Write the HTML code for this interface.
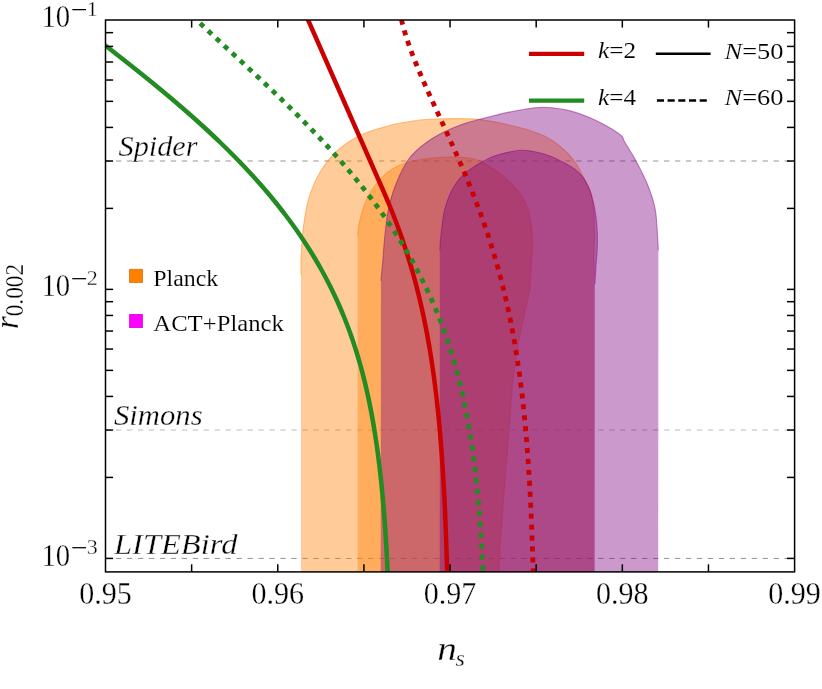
<!DOCTYPE html>
<html><head><meta charset="utf-8"><title>ns-r plot</title>
<style>html,body{margin:0;padding:0;background:#fff;}svg{display:block;}text{font-family:"Liberation Serif",serif;fill:#000;stroke:#fff;stroke-width:0.3px;paint-order:fill stroke;}</style>
</head><body>
<svg style="will-change:transform" width="822" height="689" viewBox="0 0 822 689">
<rect width="822" height="689" fill="#fff"/>
<defs><clipPath id="pc"><rect x="105.50" y="20.00" width="689.10" height="551.90"/></clipPath></defs>
<g clip-path="url(#pc)">
<line x1="105.04" y1="161.02" x2="795" y2="161.02" stroke="#b9b9b9" stroke-width="1.3" stroke-dasharray="5.3 5.66"/>
<line x1="105.04" y1="430.05" x2="795" y2="430.05" stroke="#bcbcbc" stroke-width="1.1" stroke-dasharray="5.3 5.66"/>
<line x1="105.04" y1="558.41" x2="795" y2="558.41" stroke="#858585" stroke-width="0.9" stroke-dasharray="5.3 5.66"/>
<path d="M301.00 573.90 L301.00 275.20 C301.03 271.75 300.73 263.02 301.20 254.50 C301.67 245.98 302.45 233.75 303.80 224.10 C305.15 214.45 306.55 205.33 309.30 196.60 C312.05 187.87 315.70 179.30 320.30 171.70 C324.90 164.10 330.45 156.97 336.90 151.00 C343.35 145.03 350.72 140.03 359.00 135.90 C367.28 131.77 377.42 128.73 386.60 126.20 C395.78 123.67 404.92 121.93 414.10 120.70 C423.28 119.47 432.50 119.12 441.70 118.80 C450.90 118.48 462.92 118.67 469.30 118.80 C475.68 118.93 474.55 118.83 480.00 119.60 C485.45 120.37 494.18 121.73 502.00 123.40 C509.82 125.07 519.07 127.10 526.90 129.60 C534.73 132.10 542.57 134.83 549.00 138.40 C555.43 141.97 560.90 146.67 565.50 151.00 C570.10 155.33 573.85 160.48 576.60 164.40 C579.35 168.32 579.72 170.07 582.00 174.50 C584.28 178.93 588.35 185.03 590.30 191.00 C592.25 196.97 593.00 203.40 593.70 210.30 C594.40 217.20 594.45 225.03 594.50 232.40 C594.55 239.77 594.03 247.13 594.00 254.50 C593.97 261.87 594.25 272.92 594.30 276.60 L594.30 573.90 Z" fill="rgb(255,128,0)" fill-opacity="0.4"/>
<path d="M301.00 275.20 C301.03 271.75 300.73 263.02 301.20 254.50 C301.67 245.98 302.45 233.75 303.80 224.10 C305.15 214.45 306.55 205.33 309.30 196.60 C312.05 187.87 315.70 179.30 320.30 171.70 C324.90 164.10 330.45 156.97 336.90 151.00 C343.35 145.03 350.72 140.03 359.00 135.90 C367.28 131.77 377.42 128.73 386.60 126.20 C395.78 123.67 404.92 121.93 414.10 120.70 C423.28 119.47 432.50 119.12 441.70 118.80 C450.90 118.48 462.92 118.67 469.30 118.80 C475.68 118.93 474.55 118.83 480.00 119.60 C485.45 120.37 494.18 121.73 502.00 123.40 C509.82 125.07 519.07 127.10 526.90 129.60 C534.73 132.10 542.57 134.83 549.00 138.40 C555.43 141.97 560.90 146.67 565.50 151.00 C570.10 155.33 573.85 160.48 576.60 164.40 C579.35 168.32 579.72 170.07 582.00 174.50 C584.28 178.93 588.35 185.03 590.30 191.00 C592.25 196.97 593.00 203.40 593.70 210.30 C594.40 217.20 594.45 225.03 594.50 232.40 C594.55 239.77 594.03 247.13 594.00 254.50 C593.97 261.87 594.25 272.92 594.30 276.60" fill="none" stroke="rgb(255,128,0)" stroke-opacity="0.45" stroke-width="1.1"/>
<path d="M357.60 573.90 L357.60 235.20 C357.83 233.35 357.85 229.17 359.00 224.10 C360.15 219.03 362.20 210.77 364.50 204.80 C366.80 198.83 369.12 193.58 372.80 188.30 C376.48 183.02 382.02 177.02 386.60 173.10 C391.18 169.18 395.72 166.87 400.30 164.80 C404.88 162.73 408.58 161.85 414.10 160.70 C419.62 159.55 426.50 158.50 433.40 157.90 C440.30 157.30 449.40 157.05 455.50 157.10 C461.60 157.15 465.75 157.50 470.00 158.20 C474.25 158.90 477.03 159.50 481.00 161.30 C484.97 163.10 489.37 165.88 493.80 169.00 C498.23 172.12 503.00 175.63 507.60 180.00 C512.20 184.37 517.95 190.15 521.40 195.20 C524.85 200.25 526.55 204.55 528.30 210.30 C530.05 216.05 531.22 223.25 531.90 229.70 C532.58 236.15 532.55 242.62 532.40 249.00 C532.25 255.38 531.45 261.17 531.00 268.00 C530.55 274.83 530.62 283.17 529.70 290.00 C528.78 296.83 527.35 300.33 525.50 309.00 C523.65 317.67 520.77 329.33 518.60 342.00 C516.43 354.67 514.18 369.00 512.50 385.00 C510.82 401.00 510.00 418.83 508.50 438.00 C507.00 457.17 504.97 480.67 503.50 500.00 C502.03 519.33 500.42 542.00 499.70 554.00 C498.98 566.00 499.28 569.00 499.20 572.00 L499.20 573.90 Z" fill="rgb(255,128,0)" fill-opacity="0.4"/>
<path d="M357.60 235.20 C357.83 233.35 357.85 229.17 359.00 224.10 C360.15 219.03 362.20 210.77 364.50 204.80 C366.80 198.83 369.12 193.58 372.80 188.30 C376.48 183.02 382.02 177.02 386.60 173.10 C391.18 169.18 395.72 166.87 400.30 164.80 C404.88 162.73 408.58 161.85 414.10 160.70 C419.62 159.55 426.50 158.50 433.40 157.90 C440.30 157.30 449.40 157.05 455.50 157.10 C461.60 157.15 465.75 157.50 470.00 158.20 C474.25 158.90 477.03 159.50 481.00 161.30 C484.97 163.10 489.37 165.88 493.80 169.00 C498.23 172.12 503.00 175.63 507.60 180.00 C512.20 184.37 517.95 190.15 521.40 195.20 C524.85 200.25 526.55 204.55 528.30 210.30 C530.05 216.05 531.22 223.25 531.90 229.70 C532.58 236.15 532.55 242.62 532.40 249.00 C532.25 255.38 531.45 261.17 531.00 268.00 C530.55 274.83 530.62 283.17 529.70 290.00 C528.78 296.83 527.35 300.33 525.50 309.00 C523.65 317.67 520.77 329.33 518.60 342.00 C516.43 354.67 514.18 369.00 512.50 385.00 C510.82 401.00 510.00 418.83 508.50 438.00 C507.00 457.17 504.97 480.67 503.50 500.00 C502.03 519.33 500.42 542.00 499.70 554.00 C498.98 566.00 499.28 569.00 499.20 572.00" fill="none" stroke="rgb(255,128,0)" stroke-opacity="0.45" stroke-width="1.1"/>
<path d="M380.70 573.90 L380.90 280.70 C381.15 278.17 381.68 273.55 382.40 265.50 C383.12 257.45 384.05 242.52 385.20 232.40 C386.35 222.28 387.23 213.53 389.30 204.80 C391.37 196.07 394.38 187.58 397.60 180.00 C400.82 172.42 404.47 165.05 408.60 159.30 C412.73 153.55 417.33 149.63 422.40 145.50 C427.47 141.37 432.57 137.95 439.00 134.50 C445.43 131.05 454.17 127.33 461.00 124.80 C467.83 122.27 472.23 121.37 480.00 119.30 C487.77 117.23 498.40 114.33 507.60 112.40 C516.80 110.47 527.85 108.48 535.20 107.70 C542.55 106.92 545.82 107.17 551.70 107.70 C557.58 108.23 564.02 109.20 570.50 110.90 C576.98 112.60 584.50 115.35 590.60 117.90 C596.70 120.45 601.98 123.25 607.10 126.20 C612.22 129.15 618.38 132.98 621.30 135.60 C624.22 138.22 622.23 137.83 624.60 141.90 C626.97 145.97 631.98 153.60 635.50 160.00 C639.02 166.40 642.85 173.87 645.70 180.30 C648.55 186.73 650.92 193.17 652.60 198.60 C654.28 204.03 655.02 207.33 655.80 212.90 C656.58 218.47 656.87 225.77 657.30 232.00 C657.73 238.23 658.22 247.25 658.40 250.30 L658.20 573.90 Z" fill="rgb(128,0,128)" fill-opacity="0.4"/>
<path d="M380.90 280.70 C381.15 278.17 381.68 273.55 382.40 265.50 C383.12 257.45 384.05 242.52 385.20 232.40 C386.35 222.28 387.23 213.53 389.30 204.80 C391.37 196.07 394.38 187.58 397.60 180.00 C400.82 172.42 404.47 165.05 408.60 159.30 C412.73 153.55 417.33 149.63 422.40 145.50 C427.47 141.37 432.57 137.95 439.00 134.50 C445.43 131.05 454.17 127.33 461.00 124.80 C467.83 122.27 472.23 121.37 480.00 119.30 C487.77 117.23 498.40 114.33 507.60 112.40 C516.80 110.47 527.85 108.48 535.20 107.70 C542.55 106.92 545.82 107.17 551.70 107.70 C557.58 108.23 564.02 109.20 570.50 110.90 C576.98 112.60 584.50 115.35 590.60 117.90 C596.70 120.45 601.98 123.25 607.10 126.20 C612.22 129.15 618.38 132.98 621.30 135.60 C624.22 138.22 622.23 137.83 624.60 141.90 C626.97 145.97 631.98 153.60 635.50 160.00 C639.02 166.40 642.85 173.87 645.70 180.30 C648.55 186.73 650.92 193.17 652.60 198.60 C654.28 204.03 655.02 207.33 655.80 212.90 C656.58 218.47 656.87 225.77 657.30 232.00 C657.73 238.23 658.22 247.25 658.40 250.30" fill="none" stroke="rgb(128,0,128)" stroke-opacity="0.45" stroke-width="1.1"/>
<path d="M439.70 573.90 L439.80 250.30 C440.03 247.32 440.42 239.07 441.20 232.40 C441.98 225.73 442.80 217.20 444.50 210.30 C446.20 203.40 448.65 196.52 451.40 191.00 C454.15 185.48 457.10 181.33 461.00 177.20 C464.90 173.07 470.80 168.98 474.80 166.20 C478.80 163.42 481.37 162.33 485.00 160.50 C488.63 158.67 490.53 156.92 496.60 155.20 C502.67 153.48 513.60 150.43 521.40 150.20 C529.20 149.97 536.50 151.82 543.40 153.80 C550.30 155.78 556.82 158.88 562.80 162.10 C568.78 165.32 574.93 168.73 579.30 173.10 C583.67 177.47 586.47 182.55 589.00 188.30 C591.53 194.05 593.13 200.70 594.50 207.60 C595.87 214.50 596.75 222.80 597.20 229.70 C597.65 236.60 597.40 243.03 597.20 249.00 C597.00 254.97 596.38 259.67 596.00 265.50 C595.62 271.33 595.08 280.92 594.90 284.00 L594.70 573.90 Z" fill="rgb(128,0,128)" fill-opacity="0.4"/>
<path d="M439.80 250.30 C440.03 247.32 440.42 239.07 441.20 232.40 C441.98 225.73 442.80 217.20 444.50 210.30 C446.20 203.40 448.65 196.52 451.40 191.00 C454.15 185.48 457.10 181.33 461.00 177.20 C464.90 173.07 470.80 168.98 474.80 166.20 C478.80 163.42 481.37 162.33 485.00 160.50 C488.63 158.67 490.53 156.92 496.60 155.20 C502.67 153.48 513.60 150.43 521.40 150.20 C529.20 149.97 536.50 151.82 543.40 153.80 C550.30 155.78 556.82 158.88 562.80 162.10 C568.78 165.32 574.93 168.73 579.30 173.10 C583.67 177.47 586.47 182.55 589.00 188.30 C591.53 194.05 593.13 200.70 594.50 207.60 C595.87 214.50 596.75 222.80 597.20 229.70 C597.65 236.60 597.40 243.03 597.20 249.00 C597.00 254.97 596.38 259.67 596.00 265.50 C595.62 271.33 595.08 280.92 594.90 284.00" fill="none" stroke="rgb(128,0,128)" stroke-opacity="0.45" stroke-width="1.1"/>
<path d="M297.10 -5.00 L382.08 188.00 L383.40 191.00 L384.70 194.00 L385.99 197.00 L387.26 200.00 L388.51 203.00 L389.74 206.00 L390.96 209.00 L392.16 212.00 L393.34 215.00 L394.51 218.00 L395.66 221.00 L396.79 224.00 L397.90 227.00 L399.00 230.00 L400.08 233.00 L401.14 236.00 L402.19 239.00 L403.22 242.00 L404.23 245.00 L405.22 248.00 L406.20 251.00 L407.16 254.00 L408.10 257.00 L409.03 260.00 L409.94 263.00 L410.83 266.00 L411.71 269.00 L412.57 272.00 L413.42 275.00 L414.25 278.00 L415.06 281.00 L415.86 284.00 L416.64 287.00 L417.41 290.00 L418.17 293.00 L418.90 296.00 L419.63 299.00 L420.34 302.00 L421.03 305.00 L421.71 308.00 L422.38 311.00 L423.03 314.00 L423.67 317.00 L424.30 320.00 L424.91 323.00 L425.51 326.00 L426.10 329.00 L426.67 332.00 L427.24 335.00 L427.79 338.00 L428.32 341.00 L428.85 344.00 L429.37 347.00 L429.87 350.00 L430.36 353.00 L430.84 356.00 L431.31 359.00 L431.77 362.00 L432.22 365.00 L432.66 368.00 L433.09 371.00 L433.51 374.00 L433.92 377.00 L434.32 380.00 L434.71 383.00 L435.10 386.00 L435.47 389.00 L435.83 392.00 L436.19 395.00 L436.54 398.00 L436.88 401.00 L437.21 404.00 L437.53 407.00 L437.85 410.00 L438.16 413.00 L438.46 416.00 L438.75 419.00 L439.04 422.00 L439.32 425.00 L439.59 428.00 L439.86 431.00 L440.12 434.00 L440.38 437.00 L440.62 440.00 L440.87 443.00 L441.10 446.00 L441.33 449.00 L441.56 452.00 L441.77 455.00 L441.99 458.00 L442.20 461.00 L442.40 464.00 L442.60 467.00 L442.79 470.00 L442.98 473.00 L443.16 476.00 L443.34 479.00 L443.52 482.00 L443.69 485.00 L443.85 488.00 L444.02 491.00 L444.17 494.00 L444.33 497.00 L444.48 500.00 L444.62 503.00 L444.77 506.00 L444.91 509.00 L445.04 512.00 L445.17 515.00 L445.30 518.00 L445.43 521.00 L445.55 524.00 L445.67 527.00 L445.79 530.00 L445.90 533.00 L446.01 536.00 L446.12 539.00 L446.22 542.00 L446.32 545.00 L446.42 548.00 L446.52 551.00 L446.61 554.00 L446.71 557.00 L446.80 560.00 L446.88 563.00 L446.97 566.00 L447.05 569.00 L447.13 572.00 L447.21 575.00 L447.29 578.00 L447.36 581.00 L447.43 584.00" fill="none" stroke="rgb(204,0,0)" stroke-width="4.5"/>
<path d="M401.51 20.00 L402.24 23.00 L403.03 26.00 L403.86 29.00 L404.73 32.00 L405.64 35.00 L406.60 38.00 L407.59 41.00 L408.61 44.00 L409.67 47.00 L410.75 50.00 L411.87 53.00 L413.01 56.00 L414.18 59.00 L415.37 62.00 L416.58 65.00 L417.82 68.00 L419.07 71.00 L420.34 74.00 L421.62 77.00 L422.92 80.00 L424.23 83.00 L425.55 86.00 L426.89 89.00 L428.23 92.00 L429.58 95.00 L430.94 98.00 L432.30 101.00 L433.67 104.00 L435.04 107.00 L436.41 110.00 L437.79 113.00 L439.17 116.00 L440.54 119.00 L441.92 122.00 L443.29 125.00 L444.67 128.00 L446.04 131.00 L447.40 134.00 L448.76 137.00 L450.12 140.00 L451.47 143.00 L452.82 146.00 L454.15 149.00 L455.48 152.00 L456.81 155.00 L458.12 158.00 L459.42 161.00 L460.72 164.00 L462.01 167.00 L463.28 170.00 L464.55 173.00 L465.80 176.00 L467.05 179.00 L468.28 182.00 L469.50 185.00 L470.71 188.00 L471.91 191.00 L473.09 194.00 L474.26 197.00 L475.42 200.00 L476.57 203.00 L477.70 206.00 L478.82 209.00 L479.92 212.00 L481.02 215.00 L482.09 218.00 L483.16 221.00 L484.21 224.00 L485.24 227.00 L486.26 230.00 L487.27 233.00 L488.26 236.00 L489.24 239.00 L490.21 242.00 L491.16 245.00 L492.09 248.00 L493.01 251.00 L493.92 254.00 L494.81 257.00 L495.69 260.00 L496.55 263.00 L497.40 266.00 L498.24 269.00 L499.06 272.00 L499.87 275.00 L500.66 278.00 L501.44 281.00 L502.21 284.00 L502.96 287.00 L503.70 290.00 L504.42 293.00 L505.14 296.00 L505.84 299.00 L506.52 302.00 L507.20 305.00 L507.86 308.00 L508.50 311.00 L509.14 314.00 L509.76 317.00 L510.37 320.00 L510.97 323.00 L511.55 326.00 L512.13 329.00 L512.69 332.00 L513.24 335.00 L513.78 338.00 L514.31 341.00 L514.83 344.00 L515.34 347.00 L515.83 350.00 L516.32 353.00 L516.79 356.00 L517.26 359.00 L517.71 362.00 L518.16 365.00 L518.59 368.00 L519.02 371.00 L519.44 374.00 L519.84 377.00 L520.24 380.00 L520.63 383.00 L521.01 386.00 L521.38 389.00 L521.75 392.00 L522.10 395.00 L522.45 398.00 L522.79 401.00 L523.12 404.00 L523.45 407.00 L523.76 410.00 L524.07 413.00 L524.37 416.00 L524.67 419.00 L524.96 422.00 L525.24 425.00 L525.51 428.00 L525.78 431.00 L526.04 434.00 L526.30 437.00 L526.55 440.00 L526.79 443.00 L527.03 446.00 L527.26 449.00 L527.49 452.00 L527.71 455.00 L527.92 458.00 L528.13 461.00 L528.34 464.00 L528.54 467.00 L528.73 470.00 L528.93 473.00 L529.11 476.00 L529.29 479.00 L529.47 482.00 L529.64 485.00 L529.81 488.00 L529.98 491.00 L530.14 494.00 L530.29 497.00 L530.44 500.00 L530.59 503.00 L530.74 506.00 L530.88 509.00 L531.02 512.00 L531.15 515.00 L531.28 518.00 L531.41 521.00 L531.53 524.00 L531.66 527.00 L531.77 530.00 L531.89 533.00 L532.00 536.00 L532.11 539.00 L532.22 542.00 L532.32 545.00 L532.42 548.00 L532.52 551.00 L532.62 554.00 L532.71 557.00 L532.80 560.00 L532.89 563.00 L532.98 566.00 L533.07 569.00 L533.15 572.00 L533.23 575.00 L533.31 578.00 L533.38 581.00 L533.46 584.00" fill="none" stroke="rgb(204,0,0)" stroke-width="4.8" stroke-dasharray="5.1 5.86" stroke-dashoffset="0.3"/>
<path d="M40.58 -5.00 L44.33 -2.00 L48.09 1.00 L51.88 4.00 L55.69 7.00 L59.51 10.00 L63.35 13.00 L67.20 16.00 L71.06 19.00 L74.93 22.00 L78.81 25.00 L82.69 28.00 L86.57 31.00 L90.46 34.00 L94.34 37.00 L98.22 40.00 L102.09 43.00 L105.96 46.00 L109.82 49.00 L113.68 52.00 L117.52 55.00 L121.35 58.00 L125.16 61.00 L128.97 64.00 L132.75 67.00 L136.52 70.00 L140.28 73.00 L144.01 76.00 L147.72 79.00 L151.42 82.00 L155.09 85.00 L158.74 88.00 L162.36 91.00 L165.96 94.00 L169.54 97.00 L173.09 100.00 L176.61 103.00 L180.11 106.00 L183.58 109.00 L187.02 112.00 L190.43 115.00 L193.82 118.00 L197.17 121.00 L200.49 124.00 L203.79 127.00 L207.05 130.00 L210.28 133.00 L213.47 136.00 L216.64 139.00 L219.77 142.00 L222.87 145.00 L225.94 148.00 L228.97 151.00 L231.97 154.00 L234.93 157.00 L237.87 160.00 L240.76 163.00 L243.63 166.00 L246.46 169.00 L249.25 172.00 L252.01 175.00 L254.73 178.00 L257.42 181.00 L260.08 184.00 L262.70 187.00 L265.28 190.00 L267.83 193.00 L270.35 196.00 L272.83 199.00 L275.27 202.00 L277.68 205.00 L280.06 208.00 L282.40 211.00 L284.70 214.00 L286.98 217.00 L289.21 220.00 L291.42 223.00 L293.58 226.00 L295.72 229.00 L297.82 232.00 L299.89 235.00 L301.92 238.00 L303.92 241.00 L305.88 244.00 L307.82 247.00 L309.71 250.00 L311.58 253.00 L313.42 256.00 L315.22 259.00 L316.99 262.00 L318.73 265.00 L320.43 268.00 L322.11 271.00 L323.75 274.00 L325.36 277.00 L326.94 280.00 L328.49 283.00 L330.01 286.00 L331.51 289.00 L332.97 292.00 L334.40 295.00 L335.80 298.00 L337.18 301.00 L338.52 304.00 L339.84 307.00 L341.13 310.00 L342.40 313.00 L343.63 316.00 L344.84 319.00 L346.02 322.00 L347.18 325.00 L348.31 328.00 L349.42 331.00 L350.50 334.00 L351.56 337.00 L352.59 340.00 L353.60 343.00 L354.59 346.00 L355.55 349.00 L356.50 352.00 L357.42 355.00 L358.31 358.00 L359.19 361.00 L360.05 364.00 L360.88 367.00 L361.70 370.00 L362.49 373.00 L363.27 376.00 L364.03 379.00 L364.77 382.00 L365.49 385.00 L366.19 388.00 L366.88 391.00 L367.55 394.00 L368.20 397.00 L368.84 400.00 L369.46 403.00 L370.07 406.00 L370.66 409.00 L371.23 412.00 L371.79 415.00 L372.34 418.00 L372.87 421.00 L373.39 424.00 L373.90 427.00 L374.39 430.00 L374.87 433.00 L375.34 436.00 L375.80 439.00 L376.25 442.00 L376.68 445.00 L377.10 448.00 L377.52 451.00 L377.92 454.00 L378.31 457.00 L378.69 460.00 L379.06 463.00 L379.42 466.00 L379.78 469.00 L380.12 472.00 L380.45 475.00 L380.78 478.00 L381.10 481.00 L381.41 484.00 L381.71 487.00 L382.00 490.00 L382.29 493.00 L382.57 496.00 L382.84 499.00 L383.10 502.00 L383.36 505.00 L383.61 508.00 L383.85 511.00 L384.09 514.00 L384.32 517.00 L384.55 520.00 L384.77 523.00 L384.98 526.00 L385.19 529.00 L385.40 532.00 L385.59 535.00 L385.79 538.00 L385.97 541.00 L386.16 544.00 L386.33 547.00 L386.51 550.00 L386.67 553.00 L386.84 556.00 L387.00 559.00 L387.15 562.00 L387.31 565.00 L387.45 568.00 L387.60 571.00 L387.74 574.00 L387.87 577.00 L388.00 580.00 L388.13 583.00" fill="none" stroke="rgb(34,139,34)" stroke-width="4.5"/>
<path d="M196.70 20.00 L199.85 23.00 L203.03 26.00 L206.22 29.00 L209.42 32.00 L212.63 35.00 L215.86 38.00 L219.09 41.00 L222.33 44.00 L225.57 47.00 L228.81 50.00 L232.06 53.00 L235.31 56.00 L238.55 59.00 L241.80 62.00 L245.04 65.00 L248.27 68.00 L251.49 71.00 L254.71 74.00 L257.92 77.00 L261.12 80.00 L264.31 83.00 L267.48 86.00 L270.64 89.00 L273.79 92.00 L276.92 95.00 L280.04 98.00 L283.14 101.00 L286.22 104.00 L289.28 107.00 L292.33 110.00 L295.35 113.00 L298.36 116.00 L301.34 119.00 L304.30 122.00 L307.24 125.00 L310.16 128.00 L313.05 131.00 L315.92 134.00 L318.77 137.00 L321.59 140.00 L324.38 143.00 L327.15 146.00 L329.90 149.00 L332.62 152.00 L335.31 155.00 L337.97 158.00 L340.61 161.00 L343.22 164.00 L345.81 167.00 L348.36 170.00 L350.89 173.00 L353.39 176.00 L355.86 179.00 L358.30 182.00 L360.72 185.00 L363.10 188.00 L365.46 191.00 L367.79 194.00 L370.09 197.00 L372.36 200.00 L374.60 203.00 L376.82 206.00 L379.00 209.00 L381.15 212.00 L383.28 215.00 L385.38 218.00 L387.44 221.00 L389.48 224.00 L391.49 227.00 L393.47 230.00 L395.42 233.00 L397.35 236.00 L399.24 239.00 L401.11 242.00 L402.95 245.00 L404.76 248.00 L406.54 251.00 L408.29 254.00 L410.02 257.00 L411.72 260.00 L413.39 263.00 L415.03 266.00 L416.64 269.00 L418.23 272.00 L419.79 275.00 L421.33 278.00 L422.83 281.00 L424.32 284.00 L425.77 287.00 L427.20 290.00 L428.60 293.00 L429.98 296.00 L431.33 299.00 L432.66 302.00 L433.96 305.00 L435.23 308.00 L436.49 311.00 L437.71 314.00 L438.92 317.00 L440.10 320.00 L441.25 323.00 L442.39 326.00 L443.50 329.00 L444.58 332.00 L445.65 335.00 L446.69 338.00 L447.71 341.00 L448.71 344.00 L449.68 347.00 L450.64 350.00 L451.57 353.00 L452.49 356.00 L453.38 359.00 L454.26 362.00 L455.11 365.00 L455.95 368.00 L456.76 371.00 L457.56 374.00 L458.34 377.00 L459.10 380.00 L459.84 383.00 L460.57 386.00 L461.28 389.00 L461.97 392.00 L462.64 395.00 L463.30 398.00 L463.95 401.00 L464.57 404.00 L465.19 407.00 L465.78 410.00 L466.37 413.00 L466.93 416.00 L467.49 419.00 L468.03 422.00 L468.56 425.00 L469.07 428.00 L469.57 431.00 L470.06 434.00 L470.54 437.00 L471.00 440.00 L471.46 443.00 L471.90 446.00 L472.33 449.00 L472.75 452.00 L473.16 455.00 L473.56 458.00 L473.95 461.00 L474.33 464.00 L474.70 467.00 L475.06 470.00 L475.41 473.00 L475.75 476.00 L476.08 479.00 L476.41 482.00 L476.72 485.00 L477.03 488.00 L477.33 491.00 L477.62 494.00 L477.91 497.00 L478.18 500.00 L478.45 503.00 L478.72 506.00 L478.97 509.00 L479.22 512.00 L479.47 515.00 L479.70 518.00 L479.94 521.00 L480.16 524.00 L480.38 527.00 L480.59 530.00 L480.80 533.00 L481.00 536.00 L481.20 539.00 L481.39 542.00 L481.58 545.00 L481.76 548.00 L481.94 551.00 L482.11 554.00 L482.28 557.00 L482.45 560.00 L482.61 563.00 L482.76 566.00 L482.91 569.00 L483.06 572.00 L483.20 575.00 L483.34 578.00 L483.48 581.00 L483.61 584.00" fill="none" stroke="rgb(34,139,34)" stroke-width="4.8" stroke-dasharray="5.1 5.86" stroke-dashoffset="6.28"/>
</g>
<g stroke="#000" stroke-width="1.5" fill="none" stroke-linecap="butt">
<rect x="105.50" y="20.00" width="689.10" height="551.90"/>
<line x1="191.64" y1="571.90" x2="191.64" y2="564.30"/>
<line x1="191.64" y1="20.00" x2="191.64" y2="27.60"/>
<line x1="277.78" y1="571.90" x2="277.78" y2="564.30"/>
<line x1="277.78" y1="20.00" x2="277.78" y2="27.60"/>
<line x1="363.91" y1="571.90" x2="363.91" y2="564.30"/>
<line x1="363.91" y1="20.00" x2="363.91" y2="27.60"/>
<line x1="450.05" y1="571.90" x2="450.05" y2="564.30"/>
<line x1="450.05" y1="20.00" x2="450.05" y2="27.60"/>
<line x1="536.19" y1="571.90" x2="536.19" y2="564.30"/>
<line x1="536.19" y1="20.00" x2="536.19" y2="27.60"/>
<line x1="622.33" y1="571.90" x2="622.33" y2="564.30"/>
<line x1="622.33" y1="20.00" x2="622.33" y2="27.60"/>
<line x1="708.46" y1="571.90" x2="708.46" y2="564.30"/>
<line x1="708.46" y1="20.00" x2="708.46" y2="27.60"/>
<line x1="105.50" y1="289.38" x2="113.10" y2="289.38"/>
<line x1="794.60" y1="289.38" x2="787.00" y2="289.38"/>
<line x1="105.50" y1="208.39" x2="113.10" y2="208.39"/>
<line x1="794.60" y1="208.39" x2="787.00" y2="208.39"/>
<line x1="105.50" y1="161.02" x2="113.10" y2="161.02"/>
<line x1="794.60" y1="161.02" x2="787.00" y2="161.02"/>
<line x1="105.50" y1="127.41" x2="113.10" y2="127.41"/>
<line x1="794.60" y1="127.41" x2="787.00" y2="127.41"/>
<line x1="105.50" y1="101.34" x2="113.10" y2="101.34"/>
<line x1="794.60" y1="101.34" x2="787.00" y2="101.34"/>
<line x1="105.50" y1="80.03" x2="113.10" y2="80.03"/>
<line x1="794.60" y1="80.03" x2="787.00" y2="80.03"/>
<line x1="105.50" y1="62.02" x2="113.10" y2="62.02"/>
<line x1="794.60" y1="62.02" x2="787.00" y2="62.02"/>
<line x1="105.50" y1="46.42" x2="113.10" y2="46.42"/>
<line x1="794.60" y1="46.42" x2="787.00" y2="46.42"/>
<line x1="105.50" y1="32.66" x2="113.10" y2="32.66"/>
<line x1="794.60" y1="32.66" x2="787.00" y2="32.66"/>
<line x1="105.50" y1="558.41" x2="113.10" y2="558.41"/>
<line x1="794.60" y1="558.41" x2="787.00" y2="558.41"/>
<line x1="105.50" y1="477.42" x2="113.10" y2="477.42"/>
<line x1="794.60" y1="477.42" x2="787.00" y2="477.42"/>
<line x1="105.50" y1="430.05" x2="113.10" y2="430.05"/>
<line x1="794.60" y1="430.05" x2="787.00" y2="430.05"/>
<line x1="105.50" y1="396.44" x2="113.10" y2="396.44"/>
<line x1="794.60" y1="396.44" x2="787.00" y2="396.44"/>
<line x1="105.50" y1="370.37" x2="113.10" y2="370.37"/>
<line x1="794.60" y1="370.37" x2="787.00" y2="370.37"/>
<line x1="105.50" y1="349.06" x2="113.10" y2="349.06"/>
<line x1="794.60" y1="349.06" x2="787.00" y2="349.06"/>
<line x1="105.50" y1="331.05" x2="113.10" y2="331.05"/>
<line x1="794.60" y1="331.05" x2="787.00" y2="331.05"/>
<line x1="105.50" y1="315.45" x2="113.10" y2="315.45"/>
<line x1="794.60" y1="315.45" x2="787.00" y2="315.45"/>
<line x1="105.50" y1="301.69" x2="113.10" y2="301.69"/>
<line x1="794.60" y1="301.69" x2="787.00" y2="301.69"/>
</g>
<text x="79.20" y="604.3" font-size="31.5" textLength="52.6" lengthAdjust="spacingAndGlyphs">0.95</text>
<text x="251.48" y="604.3" font-size="31.5" textLength="52.6" lengthAdjust="spacingAndGlyphs">0.96</text>
<text x="423.75" y="604.3" font-size="31.5" textLength="52.6" lengthAdjust="spacingAndGlyphs">0.97</text>
<text x="596.03" y="604.3" font-size="31.5" textLength="52.6" lengthAdjust="spacingAndGlyphs">0.98</text>
<text x="768.30" y="604.3" font-size="31.5" textLength="52.6" lengthAdjust="spacingAndGlyphs">0.99</text>
<text x="41.5" y="27.45" font-size="31" textLength="28.7" lengthAdjust="spacingAndGlyphs">10</text>
<line x1="72.3" y1="9.65" x2="86.0" y2="9.65" stroke="#000" stroke-width="1.25"/>
<text x="86.7" y="15.95" font-size="20.5" textLength="11" lengthAdjust="spacingAndGlyphs">1</text>
<text x="41.5" y="296.48" font-size="31" textLength="28.7" lengthAdjust="spacingAndGlyphs">10</text>
<line x1="72.3" y1="278.68" x2="86.0" y2="278.68" stroke="#000" stroke-width="1.25"/>
<text x="86.7" y="284.98" font-size="20.5" textLength="11" lengthAdjust="spacingAndGlyphs">2</text>
<text x="41.5" y="565.51" font-size="31" textLength="28.7" lengthAdjust="spacingAndGlyphs">10</text>
<line x1="72.3" y1="547.71" x2="86.0" y2="547.71" stroke="#000" stroke-width="1.25"/>
<text x="86.7" y="554.01" font-size="20.5" textLength="11" lengthAdjust="spacingAndGlyphs">3</text>
<text x="437.2" y="660.2" font-size="34" font-style="italic" textLength="19.6" lengthAdjust="spacingAndGlyphs">n</text>
<text x="455.6" y="665.6" font-size="24" font-style="italic">s</text>
<g transform="translate(17.6,329) rotate(-90)"><text x="0" y="0" font-size="33" font-style="italic">r</text><text x="12.7" y="5.6" font-size="25" textLength="52.5" lengthAdjust="spacingAndGlyphs">0.002</text></g>
<text x="118.5" y="155.8" font-size="29" font-style="italic" textLength="79" lengthAdjust="spacingAndGlyphs">Spider</text>
<text x="114" y="425.3" font-size="29" font-style="italic" textLength="88.6" lengthAdjust="spacingAndGlyphs">Simons</text>
<text x="114" y="554.1" font-size="29" font-style="italic" textLength="123.4" lengthAdjust="spacingAndGlyphs">LITEBird</text>
<rect x="129.6" y="269.3" width="12.8" height="13.2" fill="rgb(255,128,0)" stroke="rgb(222,111,0)" stroke-width="0.8"/>
<rect x="129.6" y="314.4" width="12.8" height="13.2" fill="rgb(255,0,255)" stroke="rgb(222,0,222)" stroke-width="0.8"/>
<text x="153.3" y="285.7" font-size="24" style="stroke-width:0.12px" textLength="65" lengthAdjust="spacingAndGlyphs">Planck</text>
<text x="153.3" y="330.6" font-size="24" style="stroke-width:0.12px" textLength="130.6" lengthAdjust="spacingAndGlyphs">ACT+Planck</text>
<line x1="529" y1="53.85" x2="584.2" y2="53.85" stroke="rgb(204,0,0)" stroke-width="4.4"/>
<line x1="529" y1="100.6" x2="584.2" y2="100.6" stroke="rgb(34,139,34)" stroke-width="4.4"/>
<text x="598" y="58.3" font-size="24" style="stroke-width:0.12px" textLength="38" lengthAdjust="spacingAndGlyphs"><tspan font-style="italic">k</tspan>=2</text>
<text x="598" y="105" font-size="24" style="stroke-width:0.12px" textLength="38" lengthAdjust="spacingAndGlyphs"><tspan font-style="italic">k</tspan>=4</text>
<line x1="655.8" y1="53.7" x2="710.6" y2="53.7" stroke="#000" stroke-width="2.6"/>
<line x1="656.9" y1="100.5" x2="707" y2="100.5" stroke="#000" stroke-width="2.6" stroke-dasharray="7.1 3.6"/>
<text x="724.5" y="58.5" font-size="24" style="stroke-width:0.12px" textLength="59" lengthAdjust="spacingAndGlyphs"><tspan font-style="italic">N</tspan>=50</text>
<text x="724.5" y="105.2" font-size="24" style="stroke-width:0.12px" textLength="59" lengthAdjust="spacingAndGlyphs"><tspan font-style="italic">N</tspan>=60</text>
</svg></body></html>
